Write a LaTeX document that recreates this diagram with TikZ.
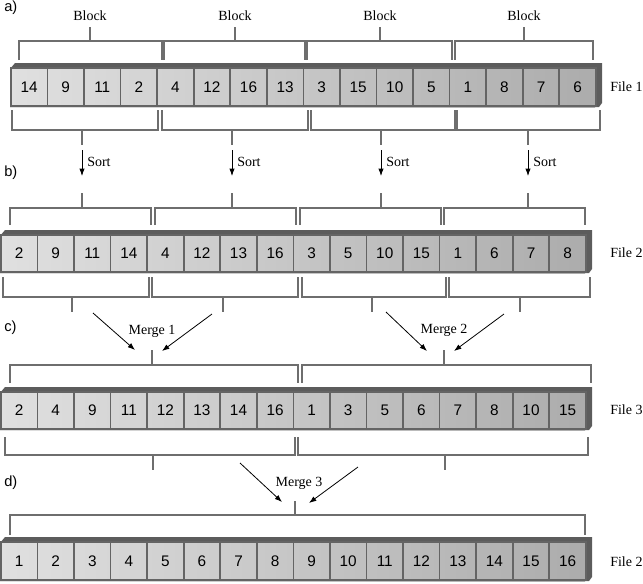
\documentclass[tikz,border=0pt]{standalone}
\usepackage{fontspec}
\setmainfont{Liberation Serif}
\newfontfamily\numfont{Liberation Sans}
\usetikzlibrary{arrows.meta}
\definecolor{brk}{RGB}{110,110,110}
\definecolor{band}{RGB}{92,92,92}
\definecolor{cellline}{RGB}{100,100,100}
\definecolor{cellL}{RGB}{224,224,224}
\definecolor{cellR}{RGB}{172,172,172}
\tikzset{
  brack/.style={draw=brk, line width=1.4pt},
  cell/.style={draw=cellline, line width=1.3pt, inner sep=0pt, font=\numfont\fontsize{11.5}{13}\selectfont},
  lbl/.style={font=\fontsize{10.5}{12}\selectfont, inner sep=0pt},
  part/.style={font=\numfont\fontsize{11}{13}\selectfont, inner sep=0pt, anchor=west},
  flow/.style={draw=black, line width=0.6pt, -{Latex[length=5.5pt,width=4pt]}},
}
% #1 name, #2 x0, #3 x1, #4 band top, #5 bottom, #6 values
\newcommand\mystrip[6]{%
  \pgfmathsetmacro\cw{(#3-#2)/16}%
  \pgfmathsetmacro\ch{(#5-#4-6)*0.75}%
  \fill[band] (#2,#4+6) -- (#2+5,#4) -- (#3+7,#4) -- (#3+7,#5-4) -- (#3+4,#5) -- (#2,#5) -- cycle;
  \shade[left color=cellL, right color=cellR] (#2,#4+6) rectangle (#3,#5);
  \foreach \v [count=\i from 0] in {#6} {
    \node[cell, minimum width=\cw*0.75pt, minimum height=\ch pt, anchor=south west] (#1\i) at ({#2+\i*\cw}, #5) {\v};
  }
}
% upper bracket: #1 left, #2 right, #3 ytop, #4 ydown, #5 tick x, #6 tick top
\newcommand\brup[6]{%
  \draw[brack] (#1,#4) -- (#1,#3) -- (#2,#3) -- (#2,#4);
  \draw[brack] (#5,#3) -- (#5,#6);
}
% lower bracket: #1 left, #2 right, #3 ybot, #4 yup, #5 tick x, #6 tick bottom
\newcommand\brdn[6]{%
  \draw[brack] (#1,#4) -- (#1,#3) -- (#2,#3) -- (#2,#4);
  \draw[brack] (#5,#3) -- (#5,#6);
}
\begin{document}
\begin{tikzpicture}[x=0.75pt, y=-0.75pt]
\useasboundingbox (0,0) rectangle (643,583);

% part labels
\node[part] (pa) at (4,8) {a)};
\node[part] (pb) at (4,173) {b)};
\node[part] (pc) at (4,328) {c)};
\node[part] (pd) at (4,483) {d)};

% ---------- row a ----------
\foreach \x [count=\k] in {90,235,380,524} {
  \node[lbl] (blk\k) at (\x,16) {Block};
}
\brup{19}{162}{41}{60}{90}{27}
\brup{164}{305}{41}{60}{235}{27}
\brup{307}{452}{41}{60}{380}{27}
\brup{455}{593}{41}{60}{524}{27}
\mystrip{a}{10}{595}{63}{107}{14,9,11,2,4,12,16,13,3,15,10,5,1,8,7,6}
\node[lbl, anchor=west] (f1) at (610,87) {File 1};
\brdn{12}{158}{130}{110}{82}{145}
\brdn{162}{308}{130}{110}{232}{145}
\brdn{311}{455}{130}{110}{381}{145}
\brdn{457}{600}{130}{110}{528}{145}

% sort arrows
\foreach \x [count=\k] in {82,232,381,528} {
  \coordinate (s\k a) at (\x,150);
  \coordinate (s\k b) at (\x,176);
  \draw[flow] (s\k a) -- (s\k b);
  \node[lbl, anchor=west] (sl\k) at (\x+5,162) {Sort};
}

% ---------- row b ----------
\brup{10}{151}{208}{225}{82}{193}
\brup{155}{296}{208}{225}{232}{193}
\brup{300}{441}{208}{225}{381}{193}
\brup{444}{585}{208}{225}{528}{193}
\mystrip{b}{0}{585}{230}{273}{2,9,11,14,4,12,13,16,3,5,10,15,1,6,7,8}
\node[lbl, anchor=west] (f2) at (610,253) {File 2};
\brdn{3}{149}{297}{277}{72}{312}
\brdn{152}{298}{297}{277}{223}{312}
\brdn{302}{446}{297}{277}{372}{312}
\brdn{449}{590}{297}{277}{520}{312}

% merge 1 and 2
\coordinate (m1a) at (93,313);  \coordinate (m1b) at (135,350);
\coordinate (m1c) at (212,314); \coordinate (m1d) at (162,351);
\draw[flow] (m1a) -- (m1b);
\draw[flow] (m1c) -- (m1d);
\node[lbl] (ml1) at (152,331) {Merge 1};
\coordinate (m2a) at (386,312); \coordinate (m2b) at (427,351);
\coordinate (m2c) at (504,314); \coordinate (m2d) at (454,351);
\draw[flow] (m2a) -- (m2b);
\draw[flow] (m2c) -- (m2d);
\node[lbl] (ml2) at (444,330) {Merge 2};

% ---------- row c ----------
\brup{10}{298}{365}{383}{152}{350}
\brup{302}{591}{365}{383}{444}{350}
\mystrip{c}{0}{585}{387}{430}{2,4,9,11,12,13,14,16,1,3,5,6,7,8,10,15}
\node[lbl, anchor=west] (f3) at (610,410) {File 3};
\brdn{5}{295}{455}{437}{153}{470}
\brdn{298}{588}{455}{437}{445}{470}

% merge 3
\coordinate (m3a) at (240,463); \coordinate (m3b) at (282,502);
\coordinate (m3c) at (358,467); \coordinate (m3d) at (309,503);
\draw[flow] (m3a) -- (m3b);
\draw[flow] (m3c) -- (m3d);
\node[lbl] (ml3) at (299,483) {Merge 3};

% ---------- row d ----------
\brup{10}{585}{515}{535}{295}{501}
\mystrip{d}{0}{585}{537}{581}{1,2,3,4,5,6,7,8,9,10,11,12,13,14,15,16}
\node[lbl, anchor=west] (f4) at (610,562) {File 2};
\end{tikzpicture}
\end{document}
